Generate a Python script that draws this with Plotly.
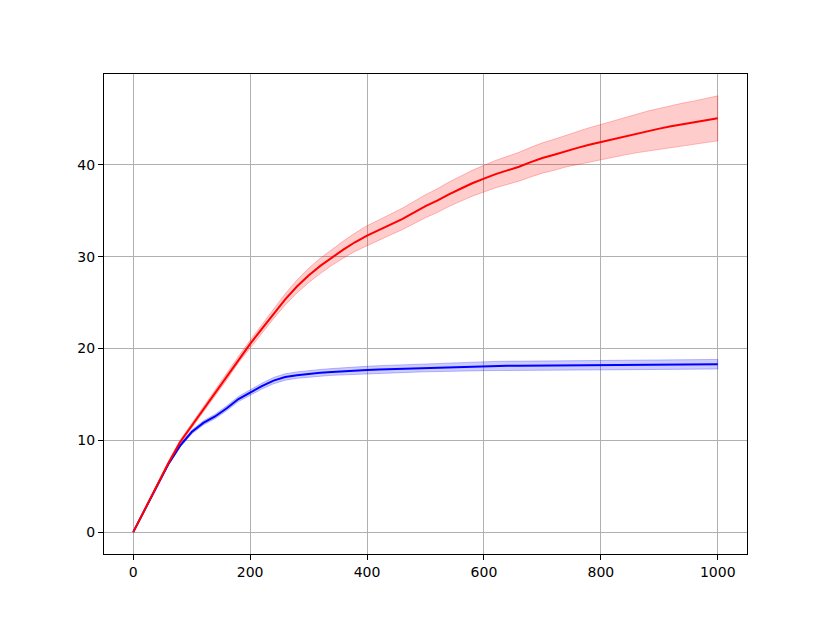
import plotly.graph_objects as go

steps = list(range(0, 1001, 20))

red_mean = [0.0, 2.5, 5.0, 7.5, 9.8, 11.6, 13.3, 15.1, 16.9, 18.8,
            20.5, 22.15, 23.8, 25.35, 26.75, 27.95, 29.0, 29.95, 30.8, 31.6,
            32.3, 32.9, 33.5, 34.1, 34.8, 35.5, 36.1, 36.8, 37.4, 38.0,
            38.5, 39.0, 39.4, 39.8, 40.3, 40.75, 41.1, 41.5, 41.85, 42.2,
            42.5, 42.8, 43.1, 43.4, 43.7, 43.95, 44.2, 44.4, 44.6, 44.85,
            45.07]
red_std = [0.0, 0.08, 0.12, 0.16, 0.2, 0.24, 0.27, 0.3, 0.32, 0.35,
           0.4, 0.47, 0.55, 0.62, 0.7, 0.78, 0.84, 0.88, 0.93, 1.0,
           1.08, 1.1, 1.13, 1.17, 1.21, 1.25, 1.29, 1.33, 1.37, 1.41,
           1.45, 1.49, 1.53, 1.57, 1.61, 1.65, 1.69, 1.73, 1.79, 1.85,
           1.9, 1.98, 2.03, 2.09, 2.16, 2.2, 2.28, 2.33, 2.37, 2.41,
           2.45]

blue_mean = [0.0, 2.5, 5.0, 7.4, 9.4, 10.9, 11.9, 12.6, 13.5, 14.5,
             15.2, 15.9, 16.5, 16.9, 17.1, 17.25, 17.35, 17.45, 17.55, 17.6,
             17.67, 17.72, 17.76, 17.8, 17.85, 17.9, 17.95, 17.99, 18.03, 18.06,
             18.08, 18.1, 18.11, 18.12, 18.13, 18.14, 18.14, 18.15, 18.16, 18.17,
             18.18, 18.19, 18.2, 18.21, 18.22, 18.23, 18.24, 18.25, 18.26, 18.27,
             18.29]
blue_std = [0.0, 0.04, 0.08, 0.12, 0.16, 0.2, 0.22, 0.24, 0.26, 0.28,
            0.3, 0.32, 0.34, 0.35, 0.35, 0.36, 0.37, 0.37, 0.38, 0.39,
            0.4, 0.41, 0.42, 0.42, 0.43, 0.44, 0.45, 0.46, 0.47, 0.48,
            0.49, 0.5, 0.5, 0.5, 0.5, 0.5, 0.5, 0.5, 0.5, 0.5,
            0.5, 0.51, 0.51, 0.51, 0.51, 0.52, 0.52, 0.52, 0.52, 0.52,
            0.52]

x_ticks = [0, 200, 400, 600, 800, 1000]
y_ticks = [0, 10, 20, 30, 40]

fig = go.Figure()


def add_series(mean, std, line_color, fill_color, edge_color):
    upper = [m + s for m, s in zip(mean, std)]
    lower = [m - s for m, s in zip(mean, std)]
    fig.add_trace(go.Scatter(
        x=steps + steps[::-1], y=upper + lower[::-1],
        fill="toself", fillcolor=fill_color,
        line=dict(color=edge_color, width=1),
        mode="lines", hoverinfo="skip", showlegend=False))
    fig.add_trace(go.Scatter(
        x=steps, y=mean, mode="lines",
        line=dict(color=line_color, width=2), showlegend=False))


add_series(blue_mean, blue_std, "#0000ff", "rgba(0,0,255,0.2)", "rgba(0,0,255,0.25)")
add_series(red_mean, red_std, "#ff0000", "rgba(255,0,0,0.2)", "rgba(255,0,0,0.25)")

axis_common = dict(
    showgrid=True, gridcolor="#b0b0b0", gridwidth=1,
    zeroline=False, showline=True, linecolor="black", linewidth=1,
    mirror=True, ticks="outside", ticklen=5, tickcolor="black", tickwidth=1,
    tickfont=dict(family="DejaVu Sans", size=14, color="black"),
)

fig.update_layout(
    width=822, height=615,
    margin=dict(l=96, r=83, t=66, b=69),
    paper_bgcolor="white", plot_bgcolor="white",
    xaxis=dict(range=[-50, 1050], tickvals=x_ticks,
               ticktext=[str(v) for v in x_ticks], **axis_common),
    yaxis=dict(range=[-2.38, 49.9], tickvals=y_ticks,
               ticktext=[str(v) for v in y_ticks], **axis_common),
)

fig.write_html("out.html")
